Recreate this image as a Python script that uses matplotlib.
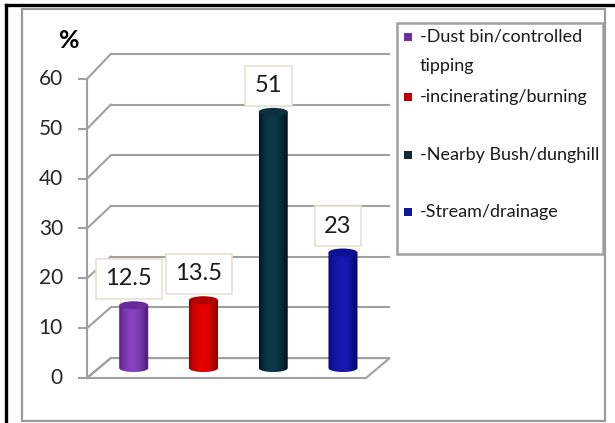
import matplotlib
matplotlib.use('Agg')
import matplotlib.pyplot as plt
import numpy as np
from matplotlib.patches import Rectangle, Ellipse, PathPatch, Polygon
from matplotlib.path import Path
from matplotlib.transforms import Affine2D
import matplotlib.colors as mcolors
from matplotlib.lines import Line2D

# ---------------- data ----------------
categories = ['-Dust bin/controlled\ntipping', '-incinerating/burning',
              '-Nearby Bush/dunghill', '-Stream/drainage']
values = [12.5, 13.5, 51, 23]
value_labels = ['12.5', '13.5', '51', '23']
y_ticks = [0, 10, 20, 30, 40, 50, 60]
y_label = '%'

# ---------------- styles ----------------
body_light = ['#8742c0', '#e60000', '#0c3848', '#1818b4']
body_dark = ['#55207e', '#960000', '#011620', '#080a78']
top_colors = ['#6a2b98', '#b00000', '#0e3040', '#0c1092']
legend_colors = ['#7030a0', '#c00000', '#0f2a36', '#0f1a9a']
grid_col = '#a0a0a0'
FONT = 'Lato'
plt.rcParams['font.family'] = [FONT, 'DejaVu Sans']

W, H = 615, 423
fig = plt.figure(figsize=(W / 100, H / 100), dpi=100)
px = Affine2D().scale(1 / W, -1 / H).translate(0, 1) + fig.transFigure

# outer frame
fig.add_artist(Line2D([6, 613], [5, 5], transform=px, color='black', lw=2.4))
fig.add_artist(Line2D([6, 6], [5, 423], transform=px, color='black', lw=2.4))
fig.add_artist(Rectangle((22, 9), 583, 412, transform=px, fill=False,
                         edgecolor='#9a9a9a', lw=1.6))

# plot axes: front plane, x in category units, y in value units
ax = fig.add_axes([87 / W, 45 / H, 279 / W, 299 / H])
XMIN, XMAX = -0.5, 3.5
ax.set_xlim(XMIN, XMAX)
ax.set_ylim(0, 60)
ax.axis('off')

DX = 0.34                      # depth offset in x units


def back(v):                   # depth offset in y (slight perspective)
    return 4.0 + v * 1.017


# floor
floor = Polygon([(XMIN, 0), (XMAX, 0), (XMAX + DX, back(0)), (XMIN + DX, back(0))],
                closed=True, facecolor='white', edgecolor=grid_col, lw=1.5,
                clip_on=False, zorder=1)
ax.add_patch(floor)

# gridlines on back wall + left wall diagonals + ticks
for v in y_ticks:
    ax.plot([XMIN + DX, XMAX + DX], [back(v), back(v)], color=grid_col, lw=1.5,
            clip_on=False, zorder=1, solid_capstyle='butt')
    ax.plot([XMIN, XMIN + DX], [v, back(v)], color=grid_col, lw=1.5,
            clip_on=False, zorder=1)
    ax.plot([XMIN - 0.115, XMIN], [v, v], color=grid_col, lw=1.5,
            clip_on=False, zorder=1)
    ax.text(XMIN - 0.345, v, str(v), ha='right', va='center', fontsize=15,
            color='#262626')
ax.plot([XMIN, XMIN], [0, y_ticks[-1]], color=grid_col, lw=1.5, clip_on=False, zorder=1)

fig.text(69 / W, 1 - 41 / H, y_label, ha='center', va='center', fontsize=18,
         fontweight='bold', color='black')

# cylinders
HW = 0.208
EH = 0.8
t = np.linspace(0, 1, 200)
prof = np.clip(np.sin(np.pi * np.clip(t * 1.15 - 0.02, 0, 1)) ** 0.7, 0, 1)
for i, v in enumerate(values):
    cx = i + DX / 2
    yb = back(0) / 2
    yt = yb + v * 1.008
    th = np.linspace(np.pi, 2 * np.pi, 40)
    verts = [(cx - HW, yt), (cx - HW, yb)]
    verts += [(cx + HW * np.cos(a), yb + EH * np.sin(a)) for a in th]
    verts += [(cx + HW, yt), (cx - HW, yt)]
    path = Path(verts)
    patch = PathPatch(path, facecolor='none', edgecolor='none', zorder=3)
    ax.add_patch(patch)
    c0 = np.array(mcolors.to_rgb(body_dark[i]))
    c1 = np.array(mcolors.to_rgb(body_light[i]))
    img = c0[None, :] + (c1 - c0)[None, :] * prof[:, None]
    img = img[None, :, :]
    im = ax.imshow(img, extent=[cx - HW, cx + HW, yb - EH, yt], aspect='auto',
                   interpolation='bilinear', zorder=3)
    im.set_clip_path(patch)
    ax.add_patch(Ellipse((cx, yt), 2 * HW, 2 * EH, facecolor=top_colors[i],
                         edgecolor='none', zorder=4))
    ax.annotate(value_labels[i], (cx - 0.07, yt + EH), xytext=(0, 8.5),
                textcoords='offset points', ha='center', va='bottom',
                fontsize=17, color='#1a1a1a', zorder=5,
                bbox=dict(boxstyle='square,pad=0.4', facecolor='white',
                          edgecolor='#e6e2d2', lw=1.2))

ax.set_xlim(XMIN, XMAX)
ax.set_ylim(0, 60)

# legend
fig.add_artist(Rectangle((397, 23), 206, 231, transform=px, facecolor='white',
                         edgecolor='#a0a0a0', lw=1.8))
entry_y = [37, 97, 155, 212]
line_gap = 29
for i, lab in enumerate(categories):
    y = entry_y[i]
    fig.add_artist(Rectangle((404, y - 4), 8, 8, transform=px,
                             facecolor=legend_colors[i], edgecolor='none'))
    for k, line in enumerate(lab.split('\n')):
        fig.text(420 / W, 1 - (y + k * line_gap) / H, line, ha='left',
                 va='center', fontsize=13, color='#1a1a1a')

fig.savefig('out.png', dpi=100)
